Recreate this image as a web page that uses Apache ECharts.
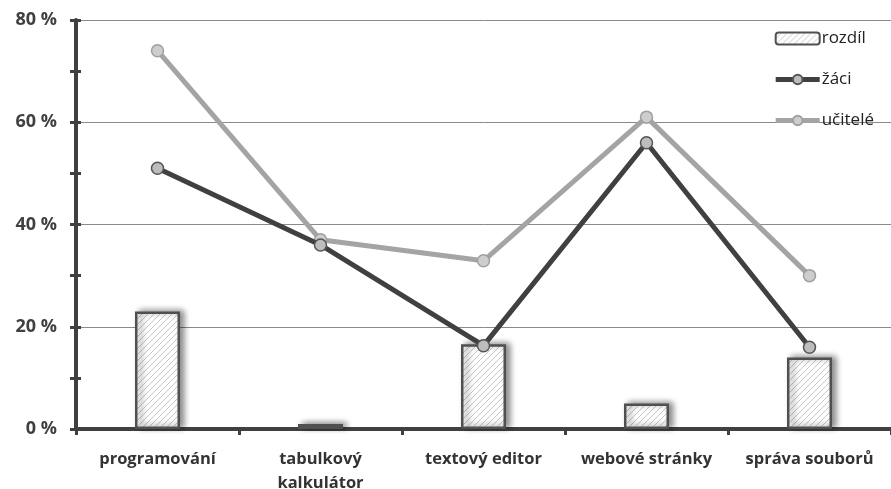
<!DOCTYPE html>
<html>
<head>
<meta charset="utf-8">
<script src="https://cdn.jsdelivr.net/npm/echarts@6/dist/echarts.min.js"></script>
<style>
  html, body { margin: 0; padding: 0; background: #fff; }
  #chart { width: 891px; height: 489px; }
</style>
</head>
<body>
<div id="chart"></div>
<script>
// Categories and values (percent)
const categories = ['programování', 'tabulkový\nkalkulátor', 'textový editor', 'webové stránky', 'správa souborů'];
const rozdil = [23, 1, 16.6, 5, 14];
const zaci = [51, 36, 16.3, 56, 16];
const ucitele = [74, 37, 32.9, 61, 30];
const yTicks = [0, 20, 40, 60, 80];

// Diagonal hatch fill for the bars
function hatchPattern() {
  const c = document.createElement('canvas');
  const s = 6;
  c.width = s; c.height = s;
  const g = c.getContext('2d');
  g.fillStyle = '#ffffff';
  g.fillRect(0, 0, s, s);
  g.strokeStyle = '#c8c8c8';
  g.lineWidth = 1;
  g.beginPath();
  g.moveTo(0, s); g.lineTo(s, 0);
  g.moveTo(-s / 2, s / 2); g.lineTo(s / 2, -s / 2);
  g.moveTo(s / 2, s * 1.5); g.lineTo(s * 1.5, s / 2);
  g.stroke();
  return c;
}

const font = '"Open Sans", "Noto Sans", sans-serif';
const dark = '#404040';
const light = '#a4a4a4';

const chart = echarts.init(document.getElementById('chart'));
chart.setOption({
  animation: false,
  grid: { left: 76, right: 0, top: 20, bottom: 60, outerBoundsMode: 'none', containLabel: false },
  legend: {
    orient: 'vertical',
    right: 12,
    top: 25,
    itemGap: 24,
    itemWidth: 44,
    itemHeight: 12,
    textStyle: { fontFamily: font, fontSize: 17, color: '#222', padding: [0, 0, 0, -3] },
    data: [
      { name: 'rozdíl' },
      { name: 'žáci', lineStyle: { width: 5, color: dark } },
      { name: 'učitelé', lineStyle: { width: 5, color: light } }
    ]
  },
  xAxis: {
    type: 'category',
    data: categories,
    axisLine: { lineStyle: { color: dark, width: 4 } },
    axisTick: { show: true, length: 6, lineStyle: { color: dark, width: 3 } },
    axisLabel: {
      interval: 0,
      margin: 18,
      fontFamily: font,
      fontWeight: 'bold',
      fontSize: 16.5,
      color: '#333',
      lineHeight: 24
    }
  },
  yAxis: [
    {
      type: 'value',
      min: 0, max: 80, interval: 20,
      axisLine: { show: true, lineStyle: { color: dark, width: 4 } },
      axisTick: { show: true, length: 6, lineStyle: { color: dark, width: 3 } },
      minorTick: { show: true, splitNumber: 2, length: 6, lineStyle: { color: dark, width: 3 } },
      splitLine: { lineStyle: { color: '#8a8a8a', width: 1 } },
      axisLabel: {
        margin: 19,
        fontFamily: font,
        fontWeight: 'bold',
        fontSize: 18,
        color: dark,
        formatter: v => yTicks.includes(v) ? v + ' %' : ''
      }
    },
    {
      type: 'value',
      position: 'left',
      offset: 0,
      min: 0, max: 80, interval: 20,
      axisLine: { show: false },
      axisTick: { show: true, inside: true, length: 5, lineStyle: { color: dark, width: 3 } },
      minorTick: { show: true, splitNumber: 2, length: 5, lineStyle: { color: dark, width: 3 } },
      splitLine: { show: false },
      axisLabel: { show: false }
    }
  ],
  series: [
    {
      name: 'rozdíl',
      type: 'bar',
      data: rozdil,
      barWidth: 45,
      z: 1,
      itemStyle: {
        color: { image: hatchPattern(), repeat: 'repeat' },
        borderColor: '#505050',
        borderWidth: 2.5,
        shadowColor: 'rgba(0,0,0,0.45)',
        shadowBlur: 6,
        shadowOffsetX: 4,
        shadowOffsetY: -1
      }
    },
    {
      name: 'žáci',
      type: 'line',
      data: zaci,
      z: 3,
      symbol: 'circle',
      symbolSize: 12,
      lineStyle: { color: dark, width: 5 },
      itemStyle: { color: '#bdbdbd', borderColor: '#555', borderWidth: 1.5 }
    },
    {
      name: 'učitelé',
      type: 'line',
      data: ucitele,
      z: 2,
      symbol: 'circle',
      symbolSize: 12,
      lineStyle: { color: light, width: 5 },
      itemStyle: { color: '#cdcdcd', borderColor: '#a0a0a0', borderWidth: 1.5 }
    }
  ]
});
</script>
</body>
</html>
